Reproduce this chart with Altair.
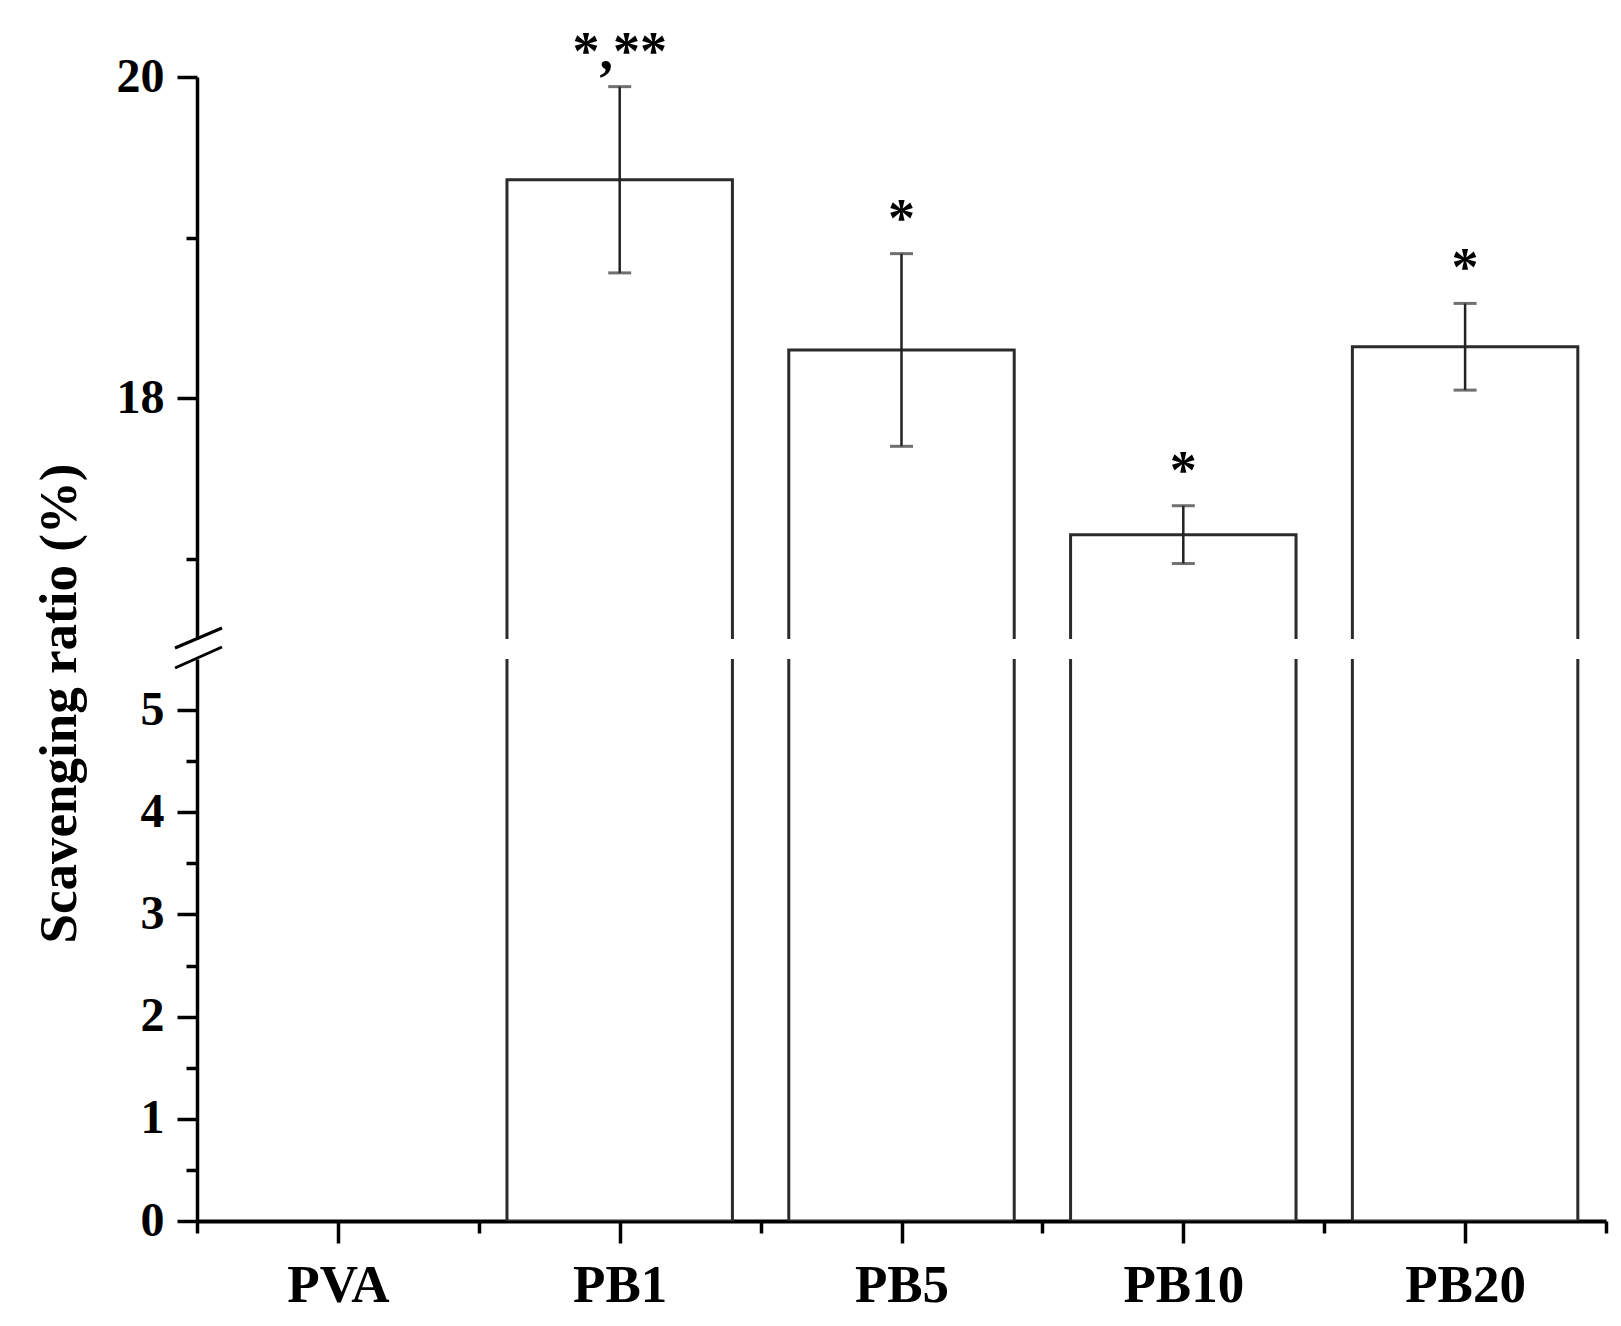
import altair as alt
import pandas as pd

categories = ["PVA", "PB1", "PB5", "PB10", "PB20"]
means = [0.0, 19.36, 18.30, 17.15, 18.32]
errors = [0.0, 0.58, 0.60, 0.18, 0.27]
sig_marks = ["", "*,**", "*", "*", "*"]

upper_domain = [16.5, 20]
lower_domain = [0, 5.5]
upper_ticks = [17, 18, 19, 20]
lower_ticks = [0, 0.5, 1, 1.5, 2, 2.5, 3, 3.5, 4, 4.5, 5]
x_ticks = [-0.5, 0, 0.5, 1, 1.5, 2, 2.5, 3, 3.5, 4, 4.5]

df = pd.DataFrame({
    "cat": categories,
    "idx": list(range(len(categories))),
    "mean": means,
    "err": errors,
    "sig": sig_marks,
})

FONT = "Liberation Serif"
W, H = 1409, 562

x_scale = alt.Scale(domain=[-0.5, len(categories) - 0.5], nice=False, zero=False)
cat_js = "[" + ",".join("'" + c + "'" for c in categories) + "]"

base = alt.Chart(df).transform_calculate(
    x1="datum.idx - 0.4",
    x2="datum.idx + 0.4",
    lo="datum.mean - datum.err",
    hi="datum.mean + datum.err",
    b0="0",
).transform_filter("datum.mean > 0")

bar_style = dict(fill="white", stroke="#2b2b2b", strokeWidth=3, clip=True)

# ---------- upper panel ----------
top_yaxis = alt.Axis(
    values=upper_ticks,
    labelExpr="datum.value % 2 === 0 ? '' + datum.value : ''",
    tickSize={"condition": {"test": "datum.value % 2 === 0", "value": 20}, "value": 11},
    title=None, grid=False, labelOverlap=False, labelFlush=False,
    labelFontSize=48, labelPadding=13,
)
top_bars = base.mark_bar(**bar_style).encode(
    x=alt.X("x1:Q", scale=x_scale, axis=None),
    x2="x2:Q",
    y=alt.Y("mean:Q", scale=alt.Scale(domain=upper_domain, nice=False, zero=False), axis=top_yaxis),
    y2="b0:Q",
)
err_rule = base.mark_rule(color="#222", strokeWidth=2.5).encode(
    x="idx:Q", y="lo:Q", y2="hi:Q"
)
cap_hi = base.mark_tick(orient="horizontal", size=23, thickness=3, color="#333").encode(
    x="idx:Q", y="hi:Q"
)
cap_lo = base.mark_tick(orient="horizontal", size=23, thickness=3, color="#333").encode(
    x="idx:Q", y="lo:Q"
)
stars = base.mark_text(font=FONT, fontSize=54, fontWeight="bold", baseline="alphabetic",
                       dy=-18, color="black").encode(
    x="idx:Q", y="hi:Q", text="sig:N"
)
top = alt.layer(top_bars, err_rule, cap_hi, cap_lo, stars).properties(width=W, height=H)

# ---------- lower panel ----------
low_yaxis = alt.Axis(
    values=lower_ticks,
    labelExpr="datum.value % 1 === 0 ? '' + datum.value : ''",
    tickSize={"condition": {"test": "datum.value % 1 === 0", "value": 20}, "value": 11},
    grid=False, labelOverlap=False, labelFlush=False,
    labelFontSize=48, labelPadding=13,
    title="Scavenging ratio (%)", titleFontSize=53, titleX=-122, titleY=44,
    titleAngle=270, titleAlign="center", titleBaseline="alphabetic",
)
xaxis = alt.Axis(
    values=x_ticks,
    labelExpr="datum.value % 1 === 0 ? " + cat_js + "[datum.value] : ''",
    tickSize={"condition": {"test": "datum.value % 1 === 0", "value": 22}, "value": 12},
    title=None, grid=False, labelOverlap=False, labelFlush=False,
    labelFontSize=53, labelPadding=16, domainWidth=4,
)
low_bars = base.mark_bar(**bar_style).encode(
    x=alt.X("x1:Q", scale=x_scale, axis=xaxis),
    x2="x2:Q",
    y=alt.Y("mean:Q", scale=alt.Scale(domain=lower_domain, nice=False), axis=low_yaxis),
    y2="b0:Q",
)
brk = pd.DataFrame({"k": [0]})
slash1 = alt.Chart(brk).mark_rule(color="black", strokeWidth=3).encode(
    x=alt.value(-22), x2=alt.value(25), y=alt.value(-11), y2=alt.value(-31)
)
slash2 = alt.Chart(brk).mark_rule(color="black", strokeWidth=3).encode(
    x=alt.value(-22), x2=alt.value(25), y=alt.value(9), y2=alt.value(-12)
)
low = alt.layer(low_bars, slash1, slash2).properties(width=W, height=H)

chart = alt.vconcat(
    top, low, spacing=20, bounds="flush",
    padding={"left": 24, "top": 17, "right": 5, "bottom": 5},
).configure_view(
    strokeWidth=0
).configure_axis(
    domainColor="black", domainWidth=3.5, tickColor="black", tickWidth=3.5,
    labelFont=FONT, labelFontWeight="bold", labelColor="black",
    titleFont=FONT, titleFontWeight="bold", titleColor="black",
)

chart.save("out.html", embed_options={"renderer": "svg", "actions": False})
